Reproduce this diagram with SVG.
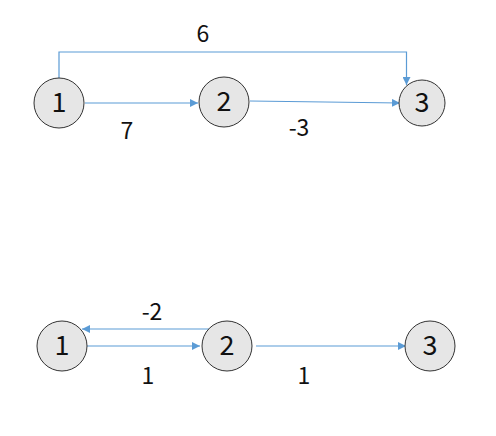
<svg xmlns="http://www.w3.org/2000/svg" width="496" height="436" viewBox="0 0 496 436">
<style>
.n circle{fill:#e6e6e6;stroke:#333;stroke-width:1}
.n text{font-family:"Noto Sans CJK SC","DejaVu Sans",sans-serif;font-size:27px;fill:#111;text-anchor:middle}
.e path{fill:none;stroke:#5b9bd5;stroke-width:1.2}
.l{font-family:"Noto Sans CJK SC","DejaVu Sans",sans-serif;font-size:23px;fill:#111;text-anchor:middle}
</style>
<defs>
<marker id="a" viewBox="0 0 10 10" refX="10" refY="5" markerWidth="8" markerHeight="8" markerUnits="userSpaceOnUse" orient="auto"><path d="M0 0L10 5L0 10z" fill="#5b9bd5"/></marker>
</defs>
<rect width="496" height="436" fill="#fff"/>
<g class="e" id="connectors">
<path d="M85 103H198" marker-end="url(#a)"/>
<path d="M250 101L400 103" marker-end="url(#a)"/>
<path d="M59 78V52H406.5V85" marker-end="url(#a)"/>
<path d="M213 329H82" marker-end="url(#a)"/>
<path d="M87 346H200" marker-end="url(#a)"/>
<path d="M256 346H406" marker-end="url(#a)"/>
</g>
<g id="labels">
<text class="l" x="203" y="42">6</text>
<text class="l" x="127" y="139">7</text>
<text class="l" x="299" y="136">-3</text>
<text class="l" x="152" y="320">-2</text>
<text class="l" x="148" y="384">1</text>
<text class="l" x="304" y="384">1</text>
</g>
<g class="n" id="t1"><circle cx="59" cy="103" r="25"/><text x="59" y="112">1</text></g>
<g class="n" id="t2"><circle cx="224" cy="102" r="25"/><text x="224" y="111">2</text></g>
<g class="n" id="t3"><circle cx="422" cy="103" r="23"/><text x="422" y="112">3</text></g>
<g class="n" id="b1"><circle cx="62" cy="346" r="25"/><text x="62" y="355">1</text></g>
<g class="n" id="b2"><circle cx="227" cy="346" r="25"/><text x="227" y="355">2</text></g>
<g class="n" id="b3"><circle cx="430" cy="346" r="25"/><text x="430" y="355">3</text></g>
</svg>
